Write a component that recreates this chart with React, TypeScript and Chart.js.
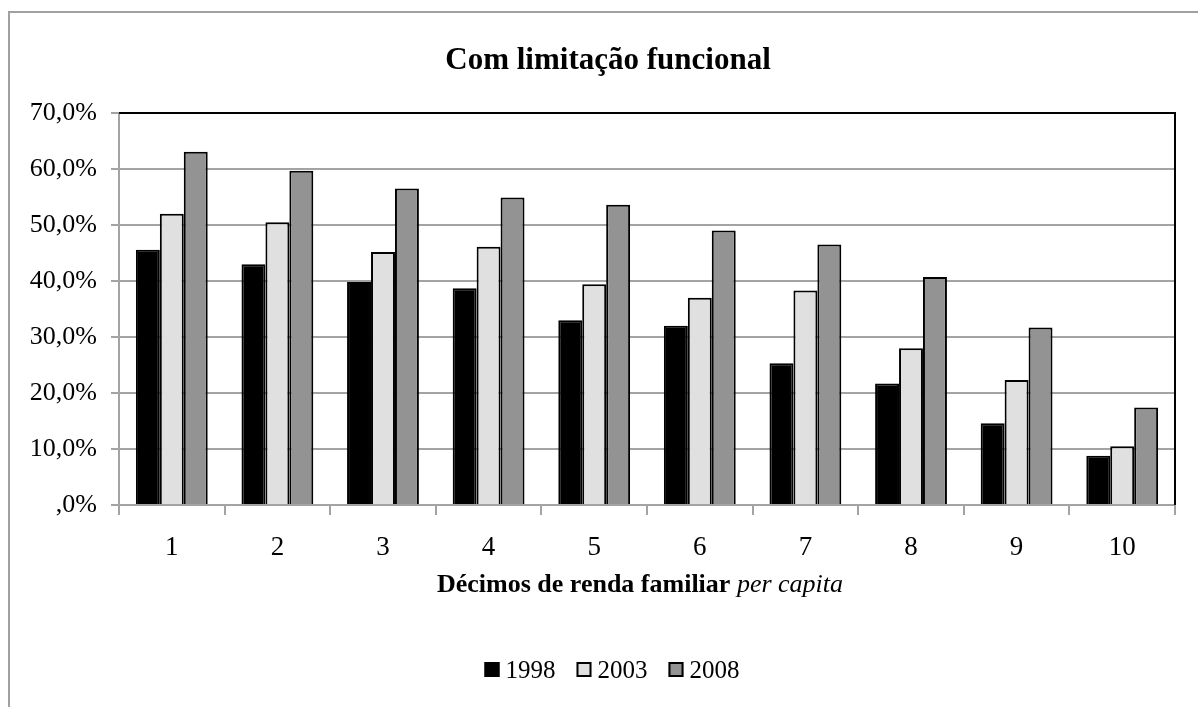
import React, { useEffect, useRef } from 'react';
import { Chart, registerables } from 'chart.js';

Chart.register(...registerables);

const categories = ['1', '2', '3', '4', '5', '6', '7', '8', '9', '10'];
const seriesLabels = ['1998', '2003', '2008'];
const values1998 = [45.6, 43.0, 39.8, 38.7, 33.0, 32.0, 25.3, 21.7, 14.6, 8.8];
const values2003 = [52.0, 50.5, 45.2, 46.1, 39.4, 37.0, 38.3, 28.0, 22.3, 10.5];
const values2008 = [63.1, 59.7, 56.5, 54.9, 53.6, 49.0, 46.5, 40.7, 31.7, 17.4];
const yTicks = [0, 10, 20, 30, 40, 50, 60, 70];

const titleText = 'Com limitação funcional';
const xTitleBold = 'Décimos de renda familiar ';
const xTitleItalic = 'per capita';

const SERIF = "'Liberation Serif', 'Times New Roman', serif";
const GRID = '#a3a3a3';
const COLORS = ['#000000', '#e0e0e0', '#939393'];

const fmt = (v: number | string) => {
  const n = Number(v);
  if (n === 0) return ',0%';
  return n.toFixed(1).replace('.', ',') + '%';
};

const decor = {
  id: 'decor',
  beforeDraw(chart: any) {
    const ctx = chart.ctx;
    ctx.save();
    ctx.fillStyle = '#ffffff';
    ctx.fillRect(0, 0, chart.width, chart.height);
    ctx.restore();
  },
  afterDraw(chart: any) {
    const ctx = chart.ctx;
    const a = chart.chartArea;
    ctx.save();
    // outer frame
    ctx.strokeStyle = '#a0a0a0';
    ctx.lineWidth = 2;
    ctx.strokeRect(9, 12, 1400, 1000);
    // plot frame top and right (black)
    ctx.strokeStyle = '#000';
    ctx.lineWidth = 2;
    ctx.beginPath();
    ctx.moveTo(a.left, a.top);
    ctx.lineTo(a.right, a.top);
    ctx.lineTo(a.right, a.bottom);
    ctx.stroke();
    // title
    ctx.fillStyle = '#000';
    ctx.textBaseline = 'alphabetic';
    ctx.textAlign = 'center';
    ctx.font = `bold 31px ${SERIF}`;
    ctx.fillText(titleText, 608, 69);
    // x axis title
    ctx.textAlign = 'left';
    ctx.font = `bold 26px ${SERIF}`;
    const w1 = ctx.measureText(xTitleBold).width;
    ctx.font = `italic 26px ${SERIF}`;
    const w2 = ctx.measureText(xTitleItalic).width;
    const cx = (a.left + a.right) / 2 - 7;
    const x = cx - (w1 + w2) / 2;
    ctx.font = `bold 26px ${SERIF}`;
    ctx.fillText(xTitleBold, x, 592);
    ctx.font = `italic 26px ${SERIF}`;
    ctx.fillText(xTitleItalic, x + w1, 592);
    // legend
    ctx.font = `25px ${SERIF}`;
    const box = 15;
    const gapBoxText = 6;
    const gapItem = 21;
    const ds = chart.data.datasets;
    const widths = ds.map((d: any) => ctx.measureText(d.label).width);
    const total = widths.reduce((s: number, w: number) => s + box + gapBoxText + w, 0) + gapItem * (ds.length - 1);
    let lx = 612 - total / 2;
    const baseY = 678;
    ds.forEach((d: any, i: number) => {
      ctx.fillStyle = d.backgroundColor;
      ctx.fillRect(lx, 662, box, box);
      ctx.strokeStyle = '#000';
      ctx.lineWidth = 2;
      ctx.strokeRect(lx + 1, 663, box - 2, box - 2);
      ctx.fillStyle = '#000';
      ctx.fillText(d.label, lx + box + gapBoxText, baseY);
      lx += box + gapBoxText + widths[i] + gapItem;
    });
    ctx.restore();
  },
};

export default function App() {
  const ref = useRef<HTMLCanvasElement>(null);
  useEffect(() => {
    const seriesValues = [values1998, values2003, values2008];
    const chart = new Chart(ref.current as HTMLCanvasElement, {
      type: 'bar',
      data: {
        labels: categories,
        datasets: seriesLabels.map((label, i) => ({
          label,
          data: seriesValues[i],
          backgroundColor: COLORS[i],
          borderColor: '#000',
          borderWidth: 2,
          categoryPercentage: 0.68,
          barPercentage: 1.0,
        })),
      },
      options: {
        responsive: false,
        animation: false,
        devicePixelRatio: 1,
        layout: { padding: { left: 0, top: 113, right: 23, bottom: 0 } },
        plugins: {
          legend: { display: false },
          title: { display: false },
          tooltip: { enabled: false },
        },
        scales: {
          x: {
            offset: true,
            grid: {
              display: true,
              drawOnChartArea: false,
              drawTicks: true,
              tickLength: 10,
              color: GRID,
              lineWidth: 2,
              offset: true,
            },
            border: { display: true, color: GRID, width: 2 },
            ticks: {
              color: '#000',
              font: { family: SERIF, size: 27 },
              padding: 17,
              maxRotation: 0,
              autoSkip: false,
            },
            afterFit: (s: any) => {
              s.height = 202;
            },
          },
          y: {
            min: 0,
            max: 70,
            afterBuildTicks: (s: any) => {
              s.ticks = yTicks.map((v) => ({ value: v }));
            },
            ticks: {
              callback: (v: any) => fmt(v),
              color: '#000',
              font: { family: SERIF, size: 26 },
              padding: 14,
            },
            grid: { color: GRID, lineWidth: 2, tickLength: 8 },
            border: { display: true, color: GRID, width: 2 },
            afterFit: (s: any) => {
              s.width = 119;
            },
          },
        },
      } as any,
      plugins: [decor],
    });
    return () => chart.destroy();
  }, []);
  return (
    <div style={{ position: 'absolute', left: 0, top: 0, width: 1198, height: 707, background: '#fff' }}>
      <canvas ref={ref} width={1198} height={707} style={{ display: 'block' }} />
    </div>
  );
}
